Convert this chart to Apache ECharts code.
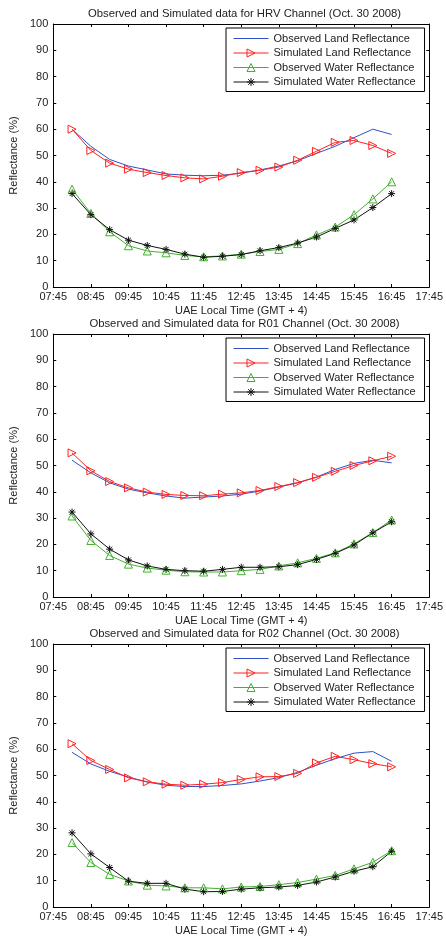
<!DOCTYPE html>
<html>
<head>
<meta charset="utf-8">
<style>
  html, body { margin: 0; padding: 0; background: #fff; }
  #chart { width: 446px; height: 937px; }
</style>
</head>
<body>
<div id="chart"></div>
<script src="https://cdn.jsdelivr.net/npm/echarts@6/dist/echarts.min.js"></script>
<script>
// sample times (UAE local time)
const times = ['08:15','08:45','09:15','09:45','10:15','10:45','11:15','11:45','12:15',
               '12:45','13:15','13:45','14:15','14:45','15:15','15:45','16:15','16:45'];
const xTicks = ['07:45','08:45','09:45','10:45','11:45','12:45','13:45','14:45','15:45','16:45','17:45'];

const seriesNames = ['Observed Land Reflectance', 'Simulated Land Reflectance',
                     'Observed Water Reflectance', 'Simulated Water Reflectance'];
const titles = ['Observed and Simulated data for HRV Channel (Oct. 30 2008)',
                'Observed and Simulated data for R01 Channel (Oct. 30 2008)',
                'Observed and Simulated data for R02 Channel (Oct. 30 2008)'];

// HRV
const hrvObsLand   = [60, 53.5, 48.5, 46, 44.5, 43, 42.5, 42.3, 42.5, 43.3, 44.5, 46, 48, 50.8, 53.5, 56.8, 60, 58];
const hrvSimLand   = [60, 51.9, 47.1, 44.8, 43.5, 42.4, 41.5, 41.1, 42.1, 43.5, 44.4, 45.6, 48.2, 51.6, 55, 55.7, 53.8, 50.8];
const hrvObsWater  = [37.2, 28, 21, 15.7, 13.7, 13, 12, 11.5, 11.8, 12.5, 13.5, 14.3, 16.5, 19.8, 22.8, 27.5, 33.5, 40];
const hrvSimWater  = [35.5, 27.5, 21.8, 17.8, 15.8, 14.3, 12.5, 11.3, 11.7, 12.3, 13.8, 15, 16.7, 19, 22.3, 25.5, 30.2, 35.5];
// R01
const r01ObsLand   = [52, 47.2, 43.4, 41, 39.6, 38.4, 37.6, 38, 38.4, 39.1, 40.3, 41.8, 43.4, 45.6, 48.5, 50.8, 52, 51];
const r01SimLand   = [54.8, 48, 43.9, 41.5, 39.9, 39, 38.6, 38.5, 39.1, 39.6, 40.5, 42, 43.5, 45.5, 47.8, 50, 51.8, 53.5];
const r01ObsWater  = [30.8, 21.5, 15.8, 12.5, 11, 10.2, 9.6, 9.5, 9.5, 10, 10.5, 11.8, 13, 14.7, 16.8, 20.2, 24.5, 29.3];
const r01SimWater  = [32.3, 24, 18.2, 14.1, 11.8, 10.5, 10, 9.8, 10.5, 11.3, 11.3, 11.5, 12.3, 14.3, 16.6, 19.8, 24.4, 28.6];
// R02
const r02ObsLand   = [58.8, 54.4, 51.6, 49.4, 47.5, 46.3, 45.8, 45.8, 46.2, 46.8, 47.9, 49.2, 51.2, 53.9, 56.4, 58.5, 59.1, 55.4];
const r02SimLand   = [62.1, 55.7, 52.3, 49.1, 47.6, 46.7, 46.3, 46.7, 47.3, 48.5, 49.5, 49.6, 50.8, 54.8, 57.3, 56, 54.5, 53.3];
const r02ObsWater  = [24.5, 16.9, 12.4, 9.9, 8.3, 8, 7.3, 7.3, 6.9, 7.6, 7.8, 8.5, 9.3, 10.6, 12, 14.5, 17, 21.4];
const r02SimWater  = [28.2, 20.2, 15, 9.8, 9, 9, 6.8, 5.8, 5.9, 6.8, 7.3, 7.6, 8.2, 9.5, 11.4, 13.6, 15.3, 21.2];

const panels = [
  [hrvObsLand, hrvSimLand, hrvObsWater, hrvSimWater],
  [r01ObsLand, r01SimLand, r01ObsWater, r01SimWater],
  [r02ObsLand, r02SimLand, r02ObsWater, r02SimWater]
];

// minutes after 07:45
function toMin(t) {
  const p = t.split(':');
  return (+p[0]) * 60 + (+p[1]) - 465;
}

const gridTops = [24, 334, 644];
const plotLeft = 48, plotWidth = 383, plotHeight = 263;
const txt = '#222';
const font = 'Liberation Sans, Arial, sans-serif';

const star = 'path://M0,-1L0,1M-1,0L1,0M-0.7,-0.7L0.7,0.7M-0.7,0.7L0.7,-0.7';
const styles = [
  { color: '#3050c8', symbol: 'none' },
  { color: '#ff2020', symbol: 'triangle', size: 8, rotate: -90 },
  { color: '#44b030', symbol: 'triangle', size: 8, rotate: 0 },
  { color: '#111111', symbol: star, size: 7, rotate: 0 }
];
const clear = 'rgba(0,0,0,0)';

const grid = [], xAxis = [], yAxis = [], series = [], title = [], legend = [];

gridTops.forEach(function (top, g) {
  grid.push({ left: plotLeft, top: top, width: plotWidth, height: plotHeight });

  title.push({
    text: titles[g],
    left: plotLeft + plotWidth / 2,
    top: top - 21,
    textAlign: 'center',
    textStyle: { fontSize: 11.3, fontWeight: 'normal', color: txt, fontFamily: font }
  });

  const axLine = { show: true, onZero: false, lineStyle: { color: '#000', width: 1 } };
  const tick = { show: true, inside: true, length: 3, lineStyle: { color: '#000' } };

  xAxis.push({
    gridIndex: g, type: 'value', min: 0, max: 600, interval: 60, position: 'bottom',
    axisLine: axLine, axisTick: tick, splitLine: { show: false },
    axisLabel: { margin: 4, fontSize: 11, color: txt, fontFamily: font,
                 formatter: function (v) { return xTicks[Math.round(v / 60)]; } },
    name: 'UAE Local Time (GMT + 4)', nameLocation: 'middle', nameGap: 18,
    nameTextStyle: { fontSize: 11, color: txt, fontFamily: font }
  });
  xAxis.push({
    gridIndex: g, type: 'value', min: 0, max: 600, interval: 60, position: 'top',
    axisLine: axLine, axisTick: tick, splitLine: { show: false }, axisLabel: { show: false }
  });
  yAxis.push({
    gridIndex: g, type: 'value', min: 0, max: 100, interval: 10, position: 'left',
    axisLine: axLine, axisTick: tick, splitLine: { show: false },
    axisLabel: { margin: 5, fontSize: 11, color: txt, fontFamily: font },
    name: 'Reflectance (%)', nameLocation: 'middle', nameGap: 30,
    nameTextStyle: { fontSize: 11, color: txt, fontFamily: font }
  });
  yAxis.push({
    gridIndex: g, type: 'value', min: 0, max: 100, interval: 10, position: 'right',
    axisLine: axLine, axisTick: tick, splitLine: { show: false }, axisLabel: { show: false }
  });

  panels[g].forEach(function (vals, s) {
    const st = styles[s];
    series.push({
      name: seriesNames[s],
      type: 'line',
      xAxisIndex: g * 2,
      yAxisIndex: g * 2,
      data: times.map(function (t, i) { return [toMin(t), vals[i]]; }),
      symbol: st.symbol,
      symbolSize: st.size || 0,
      symbolRotate: st.rotate || 0,
      showSymbol: st.symbol !== 'none',
      lineStyle: { color: st.color, width: 1 },
      itemStyle: { color: clear, borderColor: st.color, borderWidth: 1 },
      emphasis: { disabled: true },
      animation: false
    });
  });

  legend.push({
    data: seriesNames.map(function (n, s) {
      const c = styles[s].symbol === 'none' ? clear : styles[s].color;
      return {
        name: n,
        lineStyle: { width: 1, color: styles[s].color },
        itemStyle: { color: clear, borderColor: c, borderWidth: 1 }
      };
    }),
    orient: 'vertical',
    left: 226,
    top: top + 4,
    itemWidth: 35,
    itemHeight: 10,
    itemGap: 3.5,
    padding: [5, 9, 4, 7],
    borderColor: '#000',
    borderWidth: 1,
    backgroundColor: '#fff',
    selectedMode: false,
    textStyle: { fontSize: 11, color: txt, fontFamily: font }
  });
});

const chart = echarts.init(document.getElementById('chart'));
chart.setOption({
  backgroundColor: '#fff',
  animation: false,
  title: title,
  legend: legend,
  grid: grid,
  xAxis: xAxis,
  yAxis: yAxis,
  series: series
});
</script>
</body>
</html>
